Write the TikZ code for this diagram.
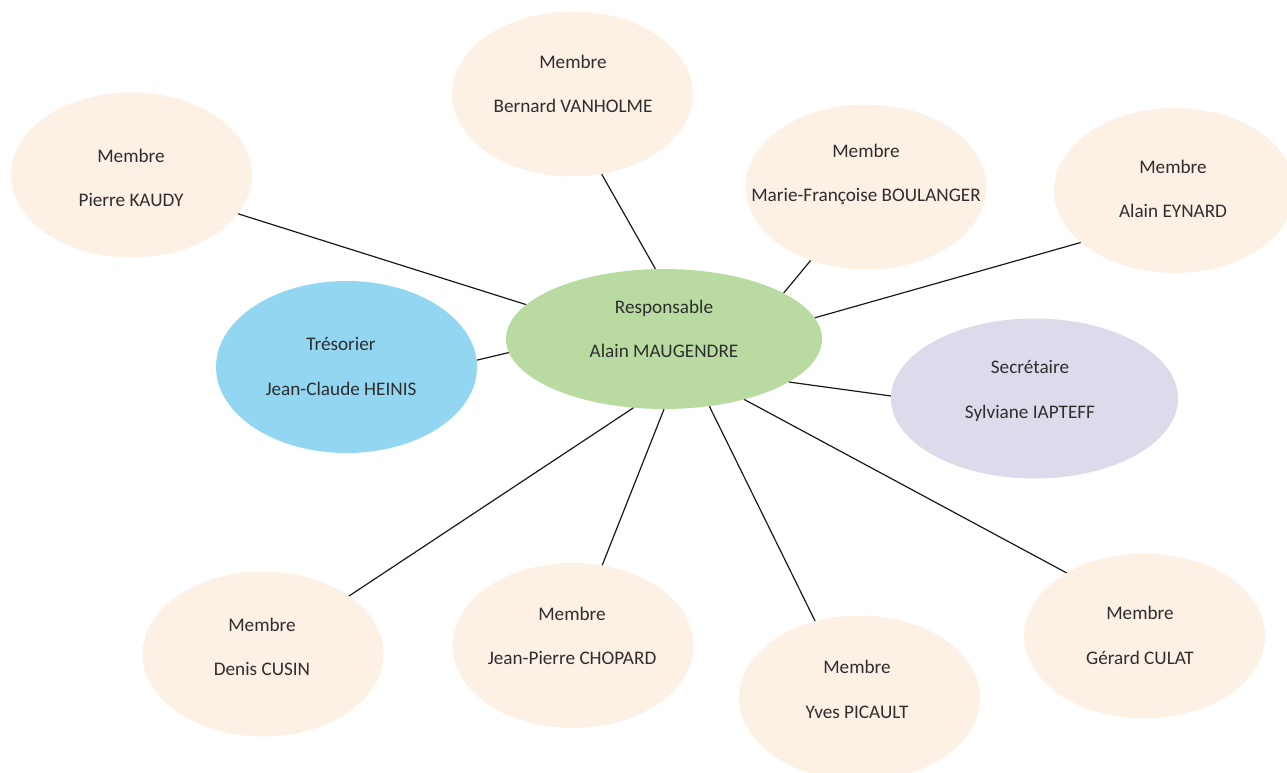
\documentclass[tikz,border=0pt]{standalone}
\usepackage{fontspec}
\setmainfont{Carlito}
\usetikzlibrary{shapes.geometric}
\definecolor{peach}{HTML}{FDF0E5}
\definecolor{leaf}{HTML}{B9DBA1}
\definecolor{sky}{HTML}{93D6F1}
\definecolor{lilac}{HTML}{DFD9EC}
\definecolor{ink}{HTML}{2E2E2E}
\tikzset{
  bubble/.style={ellipse, draw=none, inner sep=0pt, minimum width=241pt, minimum height=165pt, fill=peach},
  caption/.style={align=center, text=ink, font=\fontsize{19.2}{44.5}\selectfont, inner sep=0pt},
  link/.style={draw=black!90, line width=1.2pt}
}
\begin{document}
\begin{tikzpicture}[x=1pt,y=1pt]
\useasboundingbox (0,0) rectangle (1287,-773);
\clip (0,0) rectangle (1287,-773);
% ellipses
\node[bubble] (bern) at (572.5,-94) {};
\node[bubble] (pier) at (131.5,-175) {};
\node[bubble] (mari) at (866,-187) {};
\node[bubble] (eyna) at (1174.5,-190.5) {};
\node[bubble, fill=leaf, minimum width=316pt, minimum height=140pt] (resp) at (664,-339) {};
\node[bubble, fill=sky, minimum width=261pt, minimum height=172pt] (treso) at (346.5,-367) {};
\node[bubble, fill=lilac, minimum width=287pt, minimum height=160pt] (secr) at (1034.5,-398.5) {};
\node[bubble] (deni) at (263,-654) {};
\node[bubble] (chop) at (573,-645.5) {};
\node[bubble] (pica) at (859.5,-698) {};
\node[bubble] (cula) at (1144.5,-636) {};
% texts
\node[caption] (tbern) at (573,-84) {Membre\\Bernard VANHOLME};
\node[caption] (tpier) at (131,-178) {Membre\\Pierre KAUDY};
\node[caption] (tmari) at (866,-174.5) {Membre\\Marie-Françoise BOULANGER};
\node[caption] (teyna) at (1173,-189) {Membre\\Alain EYNARD};
\node[caption] (tresp) at (664,-329) {Responsable\\Alain MAUGENDRE};
\node[caption] (ttreso) at (341,-366.5) {Trésorier\\Jean-Claude HEINIS};
\node[caption] (tsecr) at (1030,-391) {Secrétaire\\Sylviane IAPTEFF};
\node[caption] (tdeni) at (262,-647) {Membre\\Denis CUSIN};
\node[caption] (tchop) at (572,-636) {Membre\\Jean-Pierre CHOPARD};
\node[caption] (tpica) at (857,-689.5) {Membre\\Yves PICAULT};
\node[caption] (tcula) at (1140,-635.5) {Membre\\Gérard CULAT};
% connectors
\draw[link] (resp.97.7) -- (bern.290.8);
\draw[link] (resp.166.4) -- (pier.340);
\draw[link] (resp.21.4) -- (mari.233);
\draw[link] (resp.8.3) -- (eyna.209.4);
\draw[link] (resp.185.7) -- (treso.3.5);
\draw[link] (resp.-19) -- (secr.179.6);
\draw[link] (resp.246.4) -- (deni.34);
\draw[link] (resp.270) -- (chop.70);
\draw[link] (resp.304.6) -- (pica.120.6);
\draw[link] (resp.323.6) -- (cula.141);
\end{tikzpicture}
\end{document}
